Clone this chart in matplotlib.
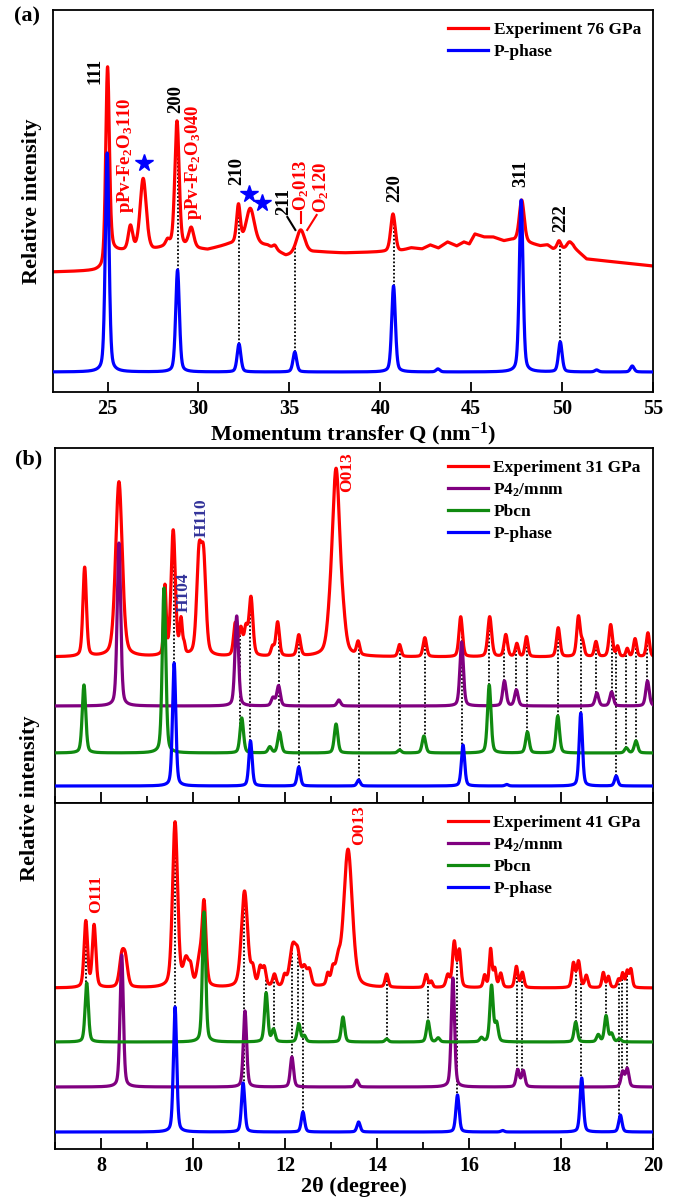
import numpy as np
import matplotlib
matplotlib.use('Agg')
import matplotlib.pyplot as plt

plt.rcParams['font.family'] = ['Liberation Serif', 'DejaVu Serif']
plt.rcParams['font.weight'] = 'bold'
plt.rcParams['axes.labelweight'] = 'bold'
plt.rcParams['mathtext.fontset'] = 'custom'
plt.rcParams['mathtext.rm'] = 'Liberation Serif:bold'
plt.rcParams['mathtext.bf'] = 'Liberation Serif:bold'
plt.rcParams['mathtext.it'] = 'Liberation Serif:bold:italic'

RED, PURPLE, GREEN, BLUE = '#ff0000', '#800080', '#108a10', '#0000ff'

# ---------------- panel (a): Q (nm^-1) ----------------
a_exp_bg_q = [22, 24.3, 24.85, 25.25, 27.5, 28.3, 30.5, 31.6, 32.0, 33.8, 34.8, 36.5, 38, 40,
              41.0, 41.7, 42.3, 42.75, 43.2, 43.7, 44.2, 44.6, 44.9, 45.2, 45.7, 46.2, 46.8,
              47.2, 48.3, 48.8, 49.2, 49.5, 50.2, 50.6, 51.35, 55]
a_exp_bg_h = [120, 121, 122, 140, 141, 145, 142, 147, 148, 146, 136, 140, 139, 140,
              140, 144, 143, 147, 144, 150, 146, 150, 148, 158, 155, 155, 151,
              152, 148, 146, 147, 143, 143, 145, 133, 126]
a_exp_pos = [25.0, 26.26, 26.96, 28.3, 28.82, 29.6, 32.2, 32.85, 34.2, 35.62, 40.7, 47.78, 49.83, 50.4]
a_exp_amp = [196, 24, 72, 5, 126, 20, 38, 36, 4, 24, 38, 42, 8, 6]
a_exp_wid = [0.12, 0.14, 0.2, 0.12, 0.14, 0.17, 0.12, 0.27, 0.12, 0.27, 0.15, 0.16, 0.12, 0.17]

a_pph_base = 20
a_pph_pos = [24.98, 28.85, 32.23, 35.3, 40.73, 43.17, 47.75, 49.9, 51.9, 53.86]
a_pph_amp = [219, 102, 28, 20, 86, 3, 172, 30, 2, 6]
a_pph_wid = [0.12] * 10

a_links = [28.85, 32.23, 35.3, 40.73, 49.9]
a_stars_q = [26.98, 32.8, 33.5]
a_stars_h = [229, 198, 189]

# ---------------- panel (b) top: 31 GPa, 2theta ----------------
t_exp_base = 146
t_exp_pos = [7.645, 8.39, 9.39, 9.57, 9.74, 9.81, 10.13, 10.23, 10.92, 11.04, 11.15, 11.26,
             11.73, 11.84, 12.30, 12.96, 13.11, 13.27, 13.59, 14.49, 15.04, 15.82, 16.45,
             16.8, 17.04, 17.25, 17.94, 18.38, 18.47, 18.76, 19.08, 19.23, 19.44, 19.61, 19.89]
t_exp_amp = [89, 175, 68, 125, 34, 8, 95, 92, 32, 26, 26, 58,
             9, 34, 21, 14, 186, 18, 13, 12, 19, 40, 40,
             22, 13, 20, 29, 40, 13, 15, 32, 10, 8, 18, 24]
t_exp_wid = [0.045, 0.085, 0.03, 0.055, 0.035, 0.025, 0.06, 0.06, 0.045, 0.045, 0.045, 0.05,
             0.04, 0.045, 0.045, 0.07, 0.1, 0.07, 0.04, 0.04, 0.045, 0.045, 0.05,
             0.045, 0.04, 0.04, 0.045, 0.045, 0.04, 0.04, 0.045, 0.035, 0.035, 0.04, 0.04]

t_p4_base = 97
t_p4_pos = [8.39, 10.95, 11.74, 11.86, 13.17, 15.84, 16.77, 17.03, 18.78, 19.10, 19.88]
t_p4_amp = [163, 90, 8, 20, 6, 64, 25, 16, 13, 14, 25]

t_pb_base = 50
t_pb_pos = [7.63, 9.37, 11.06, 11.67, 11.88, 13.11, 14.49, 15.02, 16.44, 17.27, 17.93, 19.42, 19.63]
t_pb_amp = [68, 165, 35, 6, 21, 29, 3, 17, 68, 21, 37, 5, 12]

t_pp_base = 17
t_pp_pos = [9.59, 11.25, 12.30, 13.6, 15.87, 16.82, 18.43, 19.20]
t_pp_amp = [123, 45, 19, 6, 41, 1.5, 73, 10]

t_links = [(9.59, 'pp'), (11.03, 'pb'), (11.25, 'pp'), (11.86, 'pb'), (12.30, 'pp'), (13.6, 'pp'),
           (14.49, 'pb'), (15.04, 'pb'), (15.85, 'pp'), (16.44, 'pb'), (16.77, 'p4'), (17.03, 'p4'),
           (17.27, 'pb'), (17.93, 'pb'), (18.43, 'pp'), (18.77, 'p4'), (19.10, 'p4'), (19.20, 'pp'),
           (19.42, 'pb'), (19.62, 'pb'), (19.88, 'p4')]

# ---------------- panel (b) bottom: 41 GPa ----------------
b_exp_base = 161
b_exp_pos = [7.67, 7.85, 8.45, 8.53, 9.61, 9.85, 9.95, 10.14, 10.24, 11.12, 11.30, 11.46, 11.55,
             11.77, 11.99, 12.17, 12.28, 12.42, 12.53, 12.93, 13.04, 13.15, 13.37, 14.21, 15.07,
             15.18, 15.54, 15.68, 15.79, 16.34, 16.47, 16.56, 16.69, 17.03, 17.16, 18.27, 18.38,
             18.55, 18.92, 19.03, 19.25, 19.34, 19.44, 19.52]
b_exp_amp = [66, 62, 28, 26, 165, 26, 15, 26, 82, 96, 16, 18, 18,
             12, 10, 40, 26, 18, 15, 11, 15, 20, 138, 13, 13,
             6, 12, 45, 36, 12, 38, 18, 14, 21, 15, 24, 26,
             12, 15, 11, 8, 14, 16, 18]
b_exp_wid = [0.045, 0.045, 0.06, 0.06, 0.065, 0.07, 0.045, 0.06, 0.05, 0.08, 0.045, 0.045, 0.045,
             0.045, 0.04, 0.08, 0.06, 0.06, 0.05, 0.035, 0.045, 0.06, 0.11, 0.04, 0.04,
             0.035, 0.045, 0.045, 0.04, 0.035, 0.035, 0.035, 0.04, 0.04, 0.04, 0.04, 0.045,
             0.04, 0.035, 0.035, 0.035, 0.035, 0.035, 0.035]

b_pb_base = 107
b_pb_pos = [7.69, 10.24, 11.59, 11.75, 12.30, 12.42, 13.26, 14.21, 15.11, 15.33, 16.27, 16.49,
            16.60, 18.32, 18.81, 18.98, 19.10, 19.27]
b_pb_amp = [59, 130, 49, 12, 18, 6, 25, 3, 21, 4, 4, 56, 18, 20, 7, 26, 8, 3]

b_p4_base = 62
b_p4_pos = [8.45, 11.13, 12.15, 13.56, 15.65, 17.06, 17.18, 19.34, 19.44]
b_p4_amp = [132, 76, 30, 7, 109, 17, 16, 15, 18]

b_pp_base = 17
b_pp_pos = [9.61, 11.09, 12.39, 13.6, 15.75, 16.73, 18.45, 19.29]
b_pp_amp = [125, 49, 20, 10, 37, 1.5, 54, 17]

b_links = [(7.68, 'pb'), (9.61, 'pp'), (11.10, 'pp'), (11.59, 'pb'), (11.76, 'pb'), (12.15, 'p4'),
           (12.29, 'pb'), (12.39, 'pp'), (14.21, 'pb'), (15.10, 'pb'), (15.74, 'pp'), (17.05, 'p4'),
           (17.15, 'p4'), (18.32, 'pb'), (18.44, 'pp'), (18.97, 'pb'), (19.27, 'pp'), (19.33, 'p4'),
           (19.43, 'p4')]


def pattern(x, base, pos, amp, wid, eta=0.35):
    y = np.zeros_like(x) + base
    wid = np.broadcast_to(wid, (len(pos),))
    for p, a, w in zip(pos, amp, wid):
        u = (x - p) / w
        y = y + a * (eta / (1 + u ** 2) + (1 - eta) * np.exp(-np.log(2) * u ** 2))
    return y


fig = plt.figure(figsize=(6.78, 12.01), dpi=100)
ax_a = fig.add_axes([53 / 678, 1 - 392 / 1201, 600 / 678, 382 / 1201])
ax_t = fig.add_axes([55 / 678, 1 - 803 / 1201, 598 / 678, 355 / 1201])
ax_b = fig.add_axes([55 / 678, 1 - 1149 / 1201, 598 / 678, 346 / 1201])

LW = 2.3
FS_TICK = 14.5
FS_LAB = 16
FS_LEG = 12.5

# ---- (a) ----
q = np.linspace(22, 55, 4000)
a_exp = pattern(q, np.interp(q, a_exp_bg_q, a_exp_bg_h), a_exp_pos, a_exp_amp, a_exp_wid)
a_pph = pattern(q, a_pph_base, a_pph_pos, a_pph_amp, a_pph_wid)
for xq in a_links:
    ax_a.plot([xq, xq], [np.interp(xq, q, a_pph), np.interp(xq, q, a_exp)], ls=(0, (1, 1.1)),
              color='black', lw=1.3, zorder=1)
ax_a.plot(q, a_exp, color=RED, lw=LW, label='Experiment 76 GPa', zorder=2)
ax_a.plot(q, a_pph, color=BLUE, lw=LW, label='P-phase', zorder=3)
ax_a.plot(a_stars_q, a_stars_h, ls='none', marker='*', ms=13, color=BLUE, zorder=4)
ax_a.set_xlim(22, 55)
ax_a.set_ylim(0, 382)
ax_a.set_xticks([25, 30, 35, 40, 45, 50, 55])
ax_a.set_yticks([])
ax_a.tick_params(axis='x', direction='in', length=7, width=1.3, labelsize=FS_TICK, pad=5)
ax_a.set_xlabel(r'Momentum transfer Q (nm$^{-1}$)', fontsize=FS_LAB, labelpad=1)
ax_a.set_ylabel('Relative intensity', fontsize=FS_LAB, labelpad=8)
ax_a.legend(loc='upper right', frameon=False, fontsize=FS_LEG, handlelength=2.3,
            handletextpad=0.3, labelspacing=0.3, borderaxespad=0.3)

rot = dict(rotation=90, ha='center', va='bottom', fontsize=13.5)
ax_a.text(24.29, 308, '111', color='black', **rot)
ax_a.text(26.0, 179, r'pPv-Fe$_2$O$_3$110', color=RED, **rot)
ax_a.text(28.74, 279, '200', color='black', **rot)
ax_a.text(29.73, 172, r'pPv-Fe$_2$O$_3$040', color=RED, **rot)
ax_a.text(32.09, 207, '210', color='black', **rot)
ax_a.text(34.7, 177, '211', color='black', **rot)
ax_a.plot([34.89, 35.33], [175, 162], color='black', lw=1.5)
ax_a.text(35.65, 181, r'O$_2$013', color=RED, **rot)
ax_a.plot([35.62, 35.62], [169, 180], color=RED, lw=1.5)
ax_a.text(36.75, 179, r'O$_2$120', color=RED, **rot)
ax_a.plot([36.5, 35.98], [177, 162], color=RED, lw=1.5)
ax_a.text(40.82, 190, '220', color='black', **rot)
ax_a.text(47.75, 205, '311', color='black', **rot)
ax_a.text(49.9, 160, '222', color='black', **rot)

# ---- (b) ----
t = np.linspace(7, 20, 6000)
panels = [
    (ax_t, 'Experiment 31 GPa',
     pattern(t, t_exp_base, t_exp_pos, t_exp_amp, t_exp_wid),
     pattern(t, t_p4_base, t_p4_pos, t_p4_amp, 0.045),
     pattern(t, t_pb_base, t_pb_pos, t_pb_amp, 0.045),
     pattern(t, t_pp_base, t_pp_pos, t_pp_amp, 0.042),
     t_links, 355),
    (ax_b, 'Experiment 41 GPa',
     pattern(t, b_exp_base, b_exp_pos, b_exp_amp, b_exp_wid),
     pattern(t, b_p4_base, b_p4_pos, b_p4_amp, 0.042),
     pattern(t, b_pb_base, b_pb_pos, b_pb_amp, 0.042),
     pattern(t, b_pp_base, b_pp_pos, b_pp_amp, 0.042),
     b_links, 346),
]
for ax, lab, exp, p4, pb, pp, links, top in panels:
    sim = {'p4': p4, 'pb': pb, 'pp': pp}
    for xt, ph in links:
        ax.plot([xt, xt], [np.interp(xt, t, sim[ph]), np.interp(xt, t, exp)],
                ls=(0, (1, 1.1)), color='black', lw=1.3, zorder=1)
    l_exp, = ax.plot(t, exp, color=RED, lw=LW, label=lab, zorder=2)
    l_p4, = ax.plot(t, p4, color=PURPLE, lw=LW, label=r'P4$_2$/mnm', zorder=3)
    l_pb, = ax.plot(t, pb, color=GREEN, lw=LW, label='Pbcn', zorder=3)
    l_pp, = ax.plot(t, pp, color=BLUE, lw=LW, label='P-phase', zorder=3)
    ax.set_xlim(7, 20)
    ax.set_ylim(0, top)
    ax.set_xticks(range(8, 21, 2))
    ax.set_xticks(range(7, 21), minor=True)
    ax.set_yticks([])
    ax.tick_params(axis='x', which='major', direction='in', length=8, width=1.3,
                   labelsize=FS_TICK, pad=5)
    ax.tick_params(axis='x', which='minor', direction='in', length=5, width=1.3)
    ax.legend(handles=[l_exp, l_p4, l_pb, l_pp], loc='upper right', frameon=False,
              fontsize=FS_LEG, handlelength=2.3, handletextpad=0.3, labelspacing=0.3,
              borderaxespad=0.3)
ax_t.tick_params(axis='x', labelbottom=False)
ax_b.set_xlabel('2θ (degree)', fontsize=FS_LAB, labelpad=1)

rot_s = dict(rotation=90, ha='center', va='bottom', fontsize=12.5)
ax_t.text(10.18, 266, 'H110', color='#33339a', **rot_s)
ax_t.text(9.79, 191, 'H104', color='#33339a', **rot_s)
ax_t.text(13.36, 311, 'O013', color=RED, **rot_s)
ax_b.text(7.89, 236, 'O111', color=RED, **rot_s)
ax_b.text(13.62, 304, 'O013', color=RED, **rot_s)

for ax in (ax_a, ax_t, ax_b):
    for s in ax.spines.values():
        s.set_linewidth(1.3)

fig.text(27 / 678, 1 - 16 / 1201, '(a)', fontsize=FS_LAB, ha='center', va='center')
fig.text(29 / 678, 1 - 459 / 1201, '(b)', fontsize=FS_LAB, ha='center', va='center')
fig.text(30 / 678, 1 - 798 / 1201, 'Relative intensity', fontsize=FS_LAB, rotation=90,
         ha='center', va='center')

fig.savefig('out.png', dpi=100)
